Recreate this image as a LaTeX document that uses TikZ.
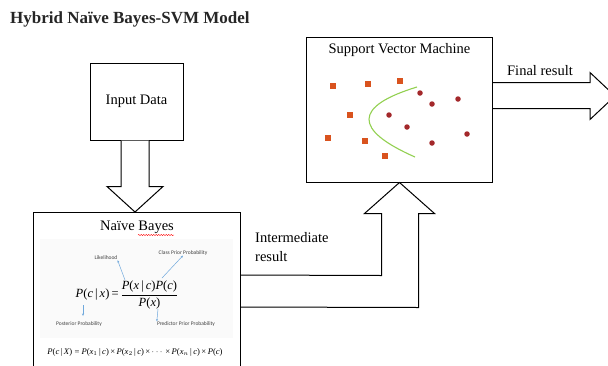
\documentclass[tikz,border=0pt]{standalone}
\usepackage{fontspec}
\usepackage{amsmath}
\setmainfont{Liberation Serif}
\newfontfamily\lblfont{Carlito}
\usetikzlibrary{calc,arrows.meta,decorations.pathmorphing}
\definecolor{sqcol}{HTML}{D9531E}
\definecolor{dotcol}{HTML}{A3282B}
\definecolor{curvecol}{HTML}{92D050}
\definecolor{bluearr}{HTML}{6FA8DC}
\newcommand\vi[1]{\textit{#1}}
\newcommand\gv{\,|\,}
\begin{document}
\begin{tikzpicture}[x=1pt,y=-1pt,
  box/.style={draw,line width=1pt,inner sep=0pt},
  blk/.style={draw,line width=1pt,fill=white,line join=miter},
  lbl/.style={font=\fontsize{14.5}{19}\selectfont, inner sep=0pt},
  prob/.style={font=\lblfont\fontsize{5.5}{6}\selectfont, text=black!75, inner sep=0pt},
  bluearrow/.style={draw=bluearr, line width=0.5pt, -{Stealth[length=2.5pt,width=2pt]}},
  sq/.style={fill=sqcol, minimum size=6pt, inner sep=0pt},
  dot/.style={circle, fill=dotcol, minimum size=5.5pt, inner sep=0pt}]
\useasboundingbox (0,0) rectangle (608,365);
\clip (0,0) rectangle (608,365);

% title
\node[anchor=west, inner sep=0pt, font=\fontsize{17}{20}\selectfont\bfseries, text=black!85] (title) at (10,19) {Hybrid Naïve Bayes-SVM Model};

% boxes
\node[box, minimum width=93pt, minimum height=77pt, lbl] (inp) at (136.5,101.5) {\raisebox{-2pt}{Input Data}};
\node[box, minimum width=186pt, minimum height=145pt] (svm) at (399.5,109.5) {};
\node[box, minimum width=207pt, minimum height=175pt, anchor=north west] (nb) at (33,212) {};

% Input -> Naive Bayes block arrow
\draw[blk] ($(inp.south)+(-15.5,0)$) -- ++(0,46) -- ++(-14,0) -- ($(nb.north west)+(102,0)$)
  -- ($(inp.south)+(26.5,46)$) -- ++(-14,0) -- ($(inp.south)+(12.5,0)$);

% Naive Bayes -> SVM block arrow
\coordinate (tipsvm) at ($(svm.south west)+(93.5,0)$);
\draw[blk] ($(nb.north east)+(0,63)$) -- ($(tipsvm)+(-18,93)$) -- ($(tipsvm)+(-18,31)$)
  -- ($(tipsvm)+(-35,31)$) -- (tipsvm) -- ($(tipsvm)+(35,31)$) -- ($(tipsvm)+(19,31)$)
  -- ($(tipsvm)+(19,125)$) -- ($(nb.north east)+(0,95)$);

% SVM -> final result arrow
\draw[blk] ($(svm.north east)+(0,46)$) -- ++(97,0) -- ++(0,-10) -- ++(25,23.5)
  -- ++(-25,23.5) -- ++(0,-11) -- ($(svm.north east)+(0,72)$);

% labels on arrows
\node[lbl, anchor=south] (final) at (540,76) {Final result};
\node[lbl, anchor=north west, align=left] (inter) at (255,232) {Intermediate\\result};

% SVM contents
\node[lbl, anchor=north] (svmt) at ($(svm.north)+(0,7)$) {Support Vector Machine};
\foreach \p/\q in {333/86,368/84,400/81,350/115,328/138,365/141,385/156}
  \node[sq] at (\p,\q) {};
\foreach \p/\q in {420/93,432/104,458/99,389/115,407/127,467/134,432/143}
  \node[dot] at (\p,\q) {};
\draw[curvecol, line width=1.1pt] (417,87) .. controls (353.7,106.3) and (353,129.7) .. (415,157);

% Naive Bayes contents
\node[lbl, anchor=north] (nbt) at ($(nb.north)+(0,9)$) {Naïve Bayes};
\draw[red, line width=0.4pt, decorate, decoration={snake, amplitude=0.6pt, segment length=2.5pt}]
  (138,235) -- (174,235);
\fill[black!2] (40,239) rectangle (233,338);
\node[inner sep=0pt, font=\fontsize{12.5}{14}\selectfont] (bayes) at (127,295)
  {\vi{P}(\vi{c}\gv\vi{x})\,=\,$\dfrac{\text{\vi{P}(\vi{x}\gv\vi{c})\vi{P}(\vi{c})}}{\text{\vi{P}(\vi{x})}}$};
\node[prob] (lik) at (106,258) {Likelihood};
\node[prob] (cpp) at (183,253) {Class Prior Probability};
\node[prob] (post) at (79,324) {Posterior Probability};
\node[prob] (pred) at (186,324) {Predictor Prior Probability};
\draw[bluearrow] (125,280) -- (lik.south east);
\draw[bluearrow] (162,278) -- (cpp.south);
\draw[bluearrow] (83,305) -- (83,316);
\draw[bluearrow] (158,309) -- (pred.north west);
\node[inner sep=0pt, font=\fontsize{8.6}{9}\selectfont] (full) at (135,352)
  {\vi{P}(\vi{c}\gv\vi{X}) = \vi{P}(\vi{x}$_1$\gv\vi{c})\,×\,\vi{P}(\vi{x}$_2$\gv\vi{c})\,×\,$\cdots$\,×\,\vi{P}(\vi{x}$_n$\gv\vi{c})\,×\,\vi{P}(\vi{c})};
\end{tikzpicture}
\end{document}
